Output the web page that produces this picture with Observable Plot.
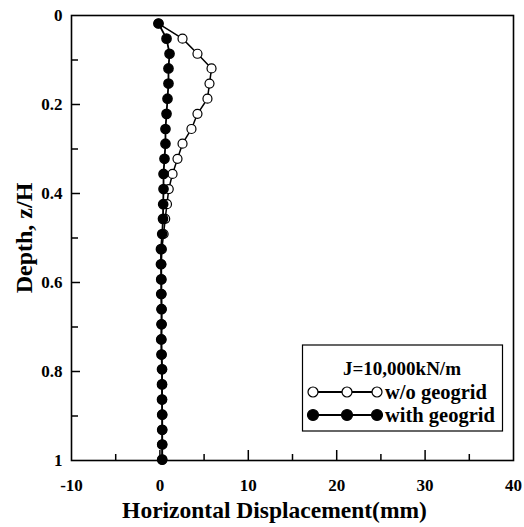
<!DOCTYPE html>
<html>
<head>
<meta charset="utf-8">
<script src="https://cdn.jsdelivr.net/npm/d3@7"></script>
<script src="https://cdn.jsdelivr.net/npm/@observablehq/plot@0.6"></script>
<style>
  html, body { margin: 0; padding: 0; background: white; }
  #wrap { position: relative; width: 524px; height: 527px; }
  #legend { position: absolute; left: 0; top: 0; pointer-events: none; }
  svg text { font-family: "Liberation Serif", "Times New Roman", serif !important; font-weight: bold !important; }
</style>
</head>
<body>
<div id="wrap"></div>
<script>
const depth = [0.018, 0.052, 0.086, 0.119, 0.153, 0.187, 0.221, 0.255, 0.288, 0.322,
               0.356, 0.390, 0.424, 0.457, 0.491, 0.525, 0.559, 0.593, 0.626, 0.660,
               0.694, 0.728, 0.762, 0.795, 0.829, 0.863, 0.897, 0.931, 0.964, 0.998];
// Horizontal displacement (mm), without geogrid (open circles)
const withoutGeogrid = [-0.16, 2.56, 4.25, 5.84, 5.61, 5.38, 4.25, 3.57, 2.56, 1.99,
                        1.43, 1.00, 0.80, 0.60, 0.42, 0.22, 0.17, 0.18, 0.18, 0.20,
                        0.20, 0.18, 0.20, 0.25, 0.25, 0.25, 0.27, 0.27, 0.27, 0.27];
// Horizontal displacement (mm), with geogrid (filled circles)
const withGeogrid = [-0.16, 0.75, 1.09, 0.97, 0.97, 0.86, 0.75, 0.63, 0.63, 0.52,
                     0.41, 0.41, 0.37, 0.35, 0.26, 0.12, 0.12, 0.15, 0.15, 0.18,
                     0.18, 0.15, 0.18, 0.24, 0.24, 0.24, 0.26, 0.26, 0.26, 0.26];
const xMajor = [0, 10, 20, 30];
const xMinor = [-5, 5, 15, 25, 35];
const xLabels = [-10, 0, 10, 20, 30, 40];
const yMajor = [0.2, 0.4, 0.6, 0.8];
const yMinor = [0.1, 0.3, 0.5, 0.7, 0.9];
const yLabels = [0, 0.2, 0.4, 0.6, 0.8, 1];
const legendTitle = "J=10,000kN/m";
const seriesNames = ["w/o geogrid", "with geogrid"];

const open = depth.map((z, i) => ({z, x: withoutGeogrid[i]}));
const filled = depth.map((z, i) => ({z, x: withGeogrid[i]}));

const W = 524, H = 527, mL = 71, mR = 11, mT = 15, mB = 67;
const pw = W - mL - mR, ph = H - mT - mB;
const serif = "Liberation Serif";

const chart = Plot.plot({
  width: W, height: H,
  marginLeft: mL, marginRight: mR, marginTop: mT, marginBottom: mB,
  style: {background: "white", color: "black", overflow: "visible"},
  x: {domain: [-10, 40]},
  y: {domain: [0, 1], reverse: true},
  marks: [
    Plot.axisX({ticks: xLabels, tickSize: 0, tickPadding: 18, fontSize: 17, tickFormat: d => String(d), label: null}),
    Plot.axisY({ticks: yLabels, tickSize: 0, tickPadding: 9, fontSize: 17, tickFormat: d => String(d), label: null}),
    Plot.ruleX(xMajor, {x: d => d, insetTop: ph - 10, stroke: "black", strokeWidth: 1.5}),
    Plot.ruleX(xMinor, {x: d => d, insetTop: ph - 6, stroke: "black", strokeWidth: 1.5}),
    Plot.ruleY(yMajor, {y: d => d, insetRight: pw - 9, stroke: "black", strokeWidth: 1.5}),
    Plot.ruleY(yMinor, {y: d => d, insetRight: pw - 7, stroke: "black", strokeWidth: 1.5}),
    Plot.line(open, {x: "x", y: "z", stroke: "black", strokeWidth: 1.5}),
    Plot.dot(open, {x: "x", y: "z", r: 4.5, stroke: "black", fill: "white", strokeWidth: 1.2}),
    Plot.line(filled, {x: "x", y: "z", stroke: "black", strokeWidth: 1.8}),
    Plot.dot(filled, {x: "x", y: "z", r: 4.6, fill: "black", stroke: "black"}),
    Plot.frame({stroke: "black", strokeWidth: 1.6}),
    Plot.text(["Horizontal Displacement(mm)"], {frameAnchor: "bottom", textAnchor: "middle", lineAnchor: "middle", dy: 50, dx: -18, fontSize: 23.5, fill: "black"}),
    Plot.text(["Depth, z/H"], {frameAnchor: "left", textAnchor: "middle", lineAnchor: "middle", rotate: -90, dx: -47, dy: 0, fontSize: 24, fill: "black"})
  ]
});
document.getElementById("wrap").appendChild(chart);

// Legend overlay
const lg = d3.select("#wrap").append("svg")
  .attr("id", "legend").attr("width", W).attr("height", H);
lg.append("rect").attr("x", 302.5).attr("y", 345).attr("width", 200).attr("height", 86)
  .attr("fill", "white").attr("stroke", "black").attr("stroke-width", 1.2);
lg.append("text").attr("x", 402).attr("y", 368).attr("text-anchor", "middle")
  .attr("dominant-baseline", "central").attr("font-size", 19).text(legendTitle);
const rows = [{y: 392, fill: "white", name: seriesNames[0]}, {y: 415, fill: "black", name: seriesNames[1]}];
const sx = [313, 347, 377];
rows.forEach(r => {
  lg.append("line").attr("x1", sx[0]).attr("x2", sx[2]).attr("y1", r.y).attr("y2", r.y)
    .attr("stroke", "black").attr("stroke-width", 1.8);
  sx.forEach(x => lg.append("circle").attr("cx", x).attr("cy", r.y)
    .attr("r", r.fill === "black" ? 5.5 : 5).attr("fill", r.fill).attr("stroke", "black").attr("stroke-width", 1.2));
  lg.append("text").attr("x", 385).attr("y", r.y).attr("dominant-baseline", "central")
    .attr("font-size", 20.5).text(r.name);
});

d3.selectAll("#wrap svg text").attr("font-family", serif).attr("font-weight", "bold")
  .style("font-family", "'Liberation Serif', 'Times New Roman', serif").style("font-weight", "bold");
</script>
</body>
</html>
